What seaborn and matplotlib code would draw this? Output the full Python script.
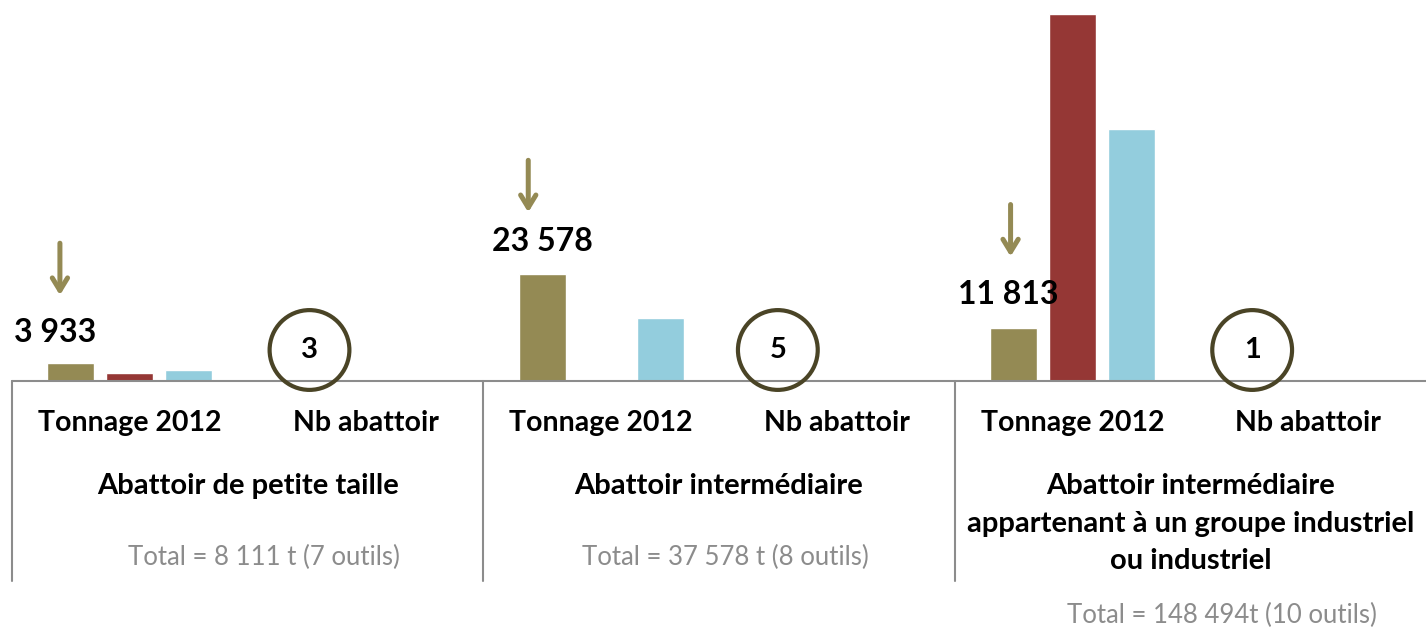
import matplotlib
matplotlib.use("Agg")
import matplotlib.pyplot as plt
import matplotlib.transforms as mtransforms
import pandas as pd
import seaborn as sns

# categories along the x axis (two per group)
positions = ["g1_t", "g1_nb", "g2_t", "g2_nb", "g3_t", "g3_nb"]
tick_labels = ["Tonnage 2012", "Nb abattoir"] * 3
groups = ["Abattoir de petite taille", "Abattoir intermédiaire",
          "Abattoir intermédiaire\nappartenant à un groupe industriel\nou industriel"]
totals = ["Total = 8 111 t (7 outils)", "Total = 37 578 t (8 outils)",
          "Total = 148 494t (10 outils)"]

# tonnage 2012 per series (olive, red, blue)
series = ["serie1", "serie2", "serie3"]
tonnage_s1 = [3933, 23578, 11813]
tonnage_s2 = [1750, 0, 81000]
tonnage_s3 = [2428, 14000, 55681]
tonnage_labels = ["3 933", "23 578", "11 813"]

nb_abattoir = [3, 5, 1]

colors = ["#948A54", "#953735", "#93CDDD"]

rows = []
for i, g in enumerate(["g1_t", "g2_t", "g3_t"]):
    rows.append({"pos": g, "serie": series[0], "val": tonnage_s1[i]})
    rows.append({"pos": g, "serie": series[1], "val": tonnage_s2[i]})
    rows.append({"pos": g, "serie": series[2], "val": tonnage_s3[i]})
df = pd.DataFrame(rows)

sns.set_style("white")
plt.rcParams["font.family"] = ["Lato", "DejaVu Sans"]
plt.rcParams["text.color"] = "black"

fig = plt.figure(figsize=(14.26, 6.29), dpi=100)
ax = fig.add_axes([12 / 1426, 1 - 381 / 629, 1 - 12 / 1426, 381 / 629])

sns.barplot(data=df, x="pos", y="val", hue="serie", order=positions,
            hue_order=series, palette=colors, width=0.75, gap=0.2,
            legend=False, ax=ax, errorbar=None, saturation=1)

ax.set_xlim(-0.5, 5.5)
ax.set_ylim(0, 84200)
sns.despine(ax=ax, left=True, bottom=True)
ax.set_xticks([])
ax.set_yticks([])
ax.set_xlabel("")
ax.set_ylabel("")

axis_grey = "#8C8C8C"
ax.axhline(0, color=axis_grey, lw=1.5, clip_on=False)

# vertical separators below the axis
trans = mtransforms.blended_transform_factory(ax.transData, ax.transAxes)
for x in [-0.5, 1.5, 3.5]:
    ax.plot([x, x], [0, -200 / 381], transform=trans, color=axis_grey,
            lw=1.5, clip_on=False)

# category labels
for i, lab in enumerate(tick_labels):
    ax.annotate(lab, xy=(i, 0), xycoords=trans, xytext=(0, -42),
                textcoords="offset pixels", ha="center", va="center",
                fontsize=20.5, fontweight="bold")

# group labels and totals
for i, g in enumerate(groups):
    ax.annotate(g, xy=(2 * i + 0.5, 0), xycoords=trans, xytext=(0, -92),
                textcoords="offset pixels", ha="center", va="top",
                fontsize=21, fontweight="bold", linespacing=1.55)
total_offsets = [(16, -176), (6, -176), (32, -234)]
for i, t in enumerate(totals):
    ax.annotate(t, xy=(2 * i + 0.5, 0), xycoords=trans, xytext=total_offsets[i],
                textcoords="offset pixels", ha="center", va="center",
                fontsize=18.5, color="#8C8C8C")

# value labels + arrows above the olive bars
bar_x = [i * 2 - 0.25 for i in range(3)]
label_dx = [-16, 0, -5]
label_dy = [31, 33, 33]
arrow_dx = [-11, -14, -3]
arrow_dy = [68, 62, 71]
for i in range(3):
    ax.annotate(tonnage_labels[i], xy=(bar_x[i], tonnage_s1[i]),
                xytext=(label_dx[i], label_dy[i]), textcoords="offset pixels",
                ha="center", va="center", fontsize=23, fontweight="bold")
    tip = mtransforms.offset_copy(ax.transData, fig, x=arrow_dx[i], y=arrow_dy[i],
                                  units="dots")
    ax.annotate("", xy=(bar_x[i], tonnage_s1[i]), xycoords=tip,
                xytext=(0, 52), textcoords="offset pixels",
                arrowprops=dict(arrowstyle="->,head_length=0.9,head_width=0.55",
                                color=colors[0], lw=3.6, shrinkA=0, shrinkB=0))

# circled counts
circle_dx = [-56, -59, -56]
for i in range(3):
    pos = mtransforms.offset_copy(ax.transData, fig, x=circle_dx[i], y=31, units="dots")
    ax.scatter([2 * i + 1], [0], s=3300, marker="o", facecolors="none",
               edgecolors="#4A4426", linewidths=3, transform=pos, clip_on=False,
               zorder=5)
    ax.text(2 * i + 1, 0, str(nb_abattoir[i]), transform=pos, ha="center",
            va="center", fontsize=21, fontweight="bold")

fig.savefig("out.png", dpi=100)
